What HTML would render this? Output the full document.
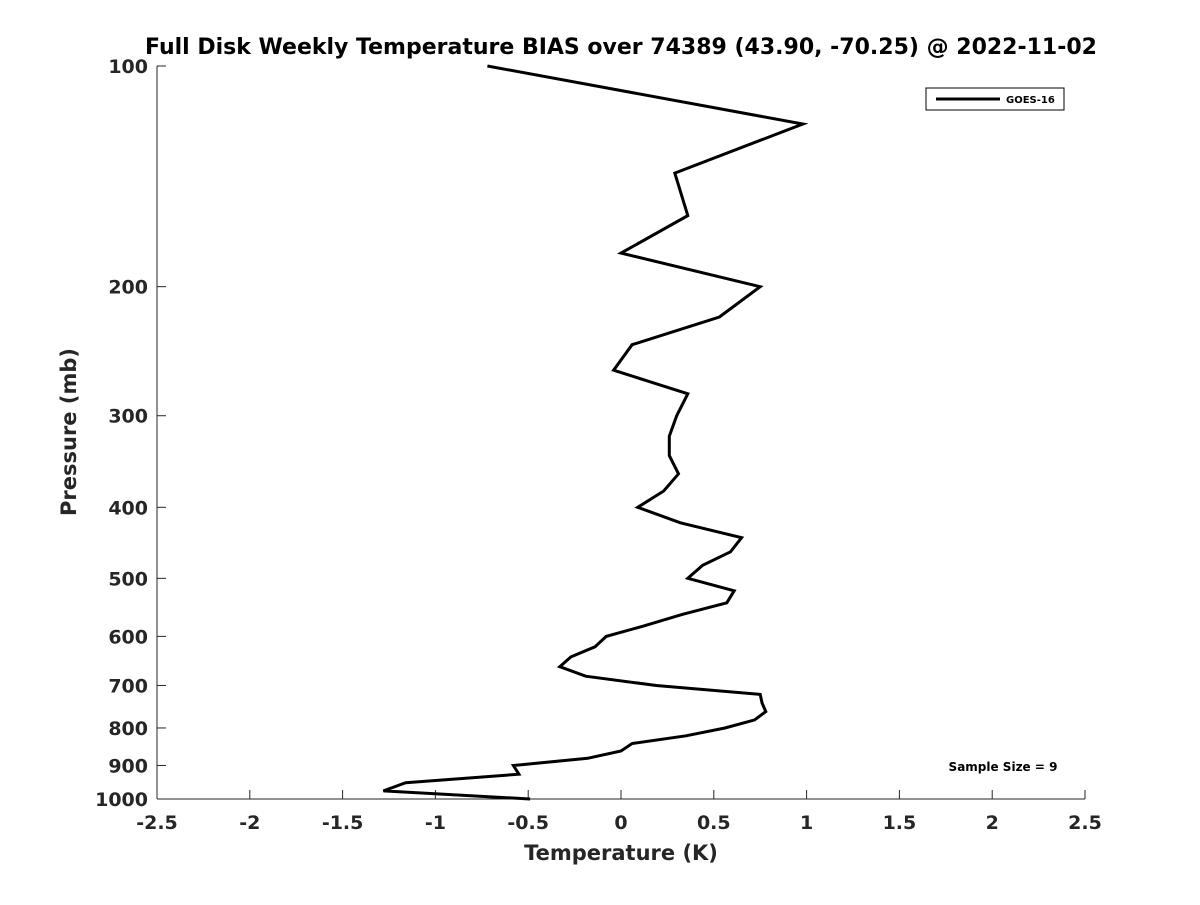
<!DOCTYPE html>
<html><head><meta charset="utf-8"><style>
body{margin:0;background:#fff;font-family:"Liberation Sans",sans-serif}
svg text{font-family:"DejaVu Sans","Liberation Sans",sans-serif;font-weight:bold;fill:#262626}
</style></head><body>
<svg id="chart" width="1200" height="900" xmlns="http://www.w3.org/2000/svg">
<text x="621" y="54" text-anchor="middle" font-size="22" style="fill:#000">Full Disk Weekly Temperature BIAS over 74389 (43.90, -70.25) @ 2022-11-02</text>
<g id="axes"></g>
<path id="series" fill="none" stroke="#000" stroke-width="3"/>
<g>
<rect x="926" y="88" width="138" height="22" fill="#fff" stroke="#000" stroke-width="1"/>
<line x1="936" y1="99" x2="1000" y2="99" stroke="#000" stroke-width="3"/>
<text x="1006" y="103" font-size="10" style="fill:#000">GOES-16</text>
</g>
<text x="1003" y="771" text-anchor="middle" font-size="12" style="fill:#000">Sample Size = 9</text>
<text x="621" y="860" text-anchor="middle" font-size="21">Temperature (K)</text>
<text transform="translate(76,432) rotate(-90)" text-anchor="middle" font-size="21">Pressure (mb)</text>
</svg>
<script>
const pressures=[100,120,140,160,180,200,220,240,260,280,300,320,340,360,380,400,420,440,460,480,500,520,540,560,580,600,620,640,660,680,700,720,740,760,780,800,820,840,860,880,900,925,950,975,1000];
const bias=[-0.72,0.98,0.29,0.36,0.0,0.75,0.53,0.06,-0.04,0.36,0.30,0.26,0.26,0.31,0.23,0.09,0.32,0.65,0.59,0.44,0.36,0.61,0.57,0.33,0.13,-0.08,-0.14,-0.27,-0.33,-0.19,0.19,0.75,0.76,0.78,0.72,0.56,0.35,0.06,0.0,-0.18,-0.58,-0.55,-1.16,-1.28,-0.49];
const xTicks=[-2.5,-2,-1.5,-1,-0.5,0,0.5,1,1.5,2,2.5];
const xTickLabels=["-2.5","-2","-1.5","-1","-0.5","0","0.5","1","1.5","2","2.5"];
const yTicks=[100,200,300,400,500,600,700,800,900,1000];
const X0=157,X1=1085,Y0=66,Y1=799;
const xs=v=>X0+(v+2.5)/5*(X1-X0);
const ys=p=>Y0+Math.log10(p/100)*(Y1-Y0);
const NS="http://www.w3.org/2000/svg";
const ax=document.getElementById('axes');
function mk(t,a){const e=document.createElementNS(NS,t);for(const k in a)e.setAttribute(k,a[k]);ax.appendChild(e);return e;}
let l=mk('line',{x1:X0,y1:Y1,x2:X1,y2:Y1,stroke:'#262626','stroke-width':1});


l=mk('line',{x1:X0,y1:Y0,x2:X0,y2:Y1,stroke:'#262626','stroke-width':1});


xTicks.forEach((v,i)=>{
 const t=mk('line',{x1:xs(v),y1:Y1,x2:xs(v),y2:Y1-9,stroke:'#262626'});
 
 
 const tx=mk('text',{x:xs(v),y:Y1+30,'text-anchor':'middle','font-size':19});
 
 
 tx.textContent=xTickLabels[i];
});
yTicks.forEach(p=>{
 const t=mk('line',{x1:X0,y1:ys(p),x2:X0+9,y2:ys(p),stroke:'#262626'});
 
 
 const tx=mk('text',{x:X0-9,y:ys(p)+7,'text-anchor':'end','font-size':19});
 
 
 tx.textContent=p;
});
document.getElementById('series').setAttribute('d',pressures.map((p,i)=>(i?'L':'M')+xs(bias[i]).toFixed(1)+','+ys(p).toFixed(1)).join(''));
</script>
</body></html>
